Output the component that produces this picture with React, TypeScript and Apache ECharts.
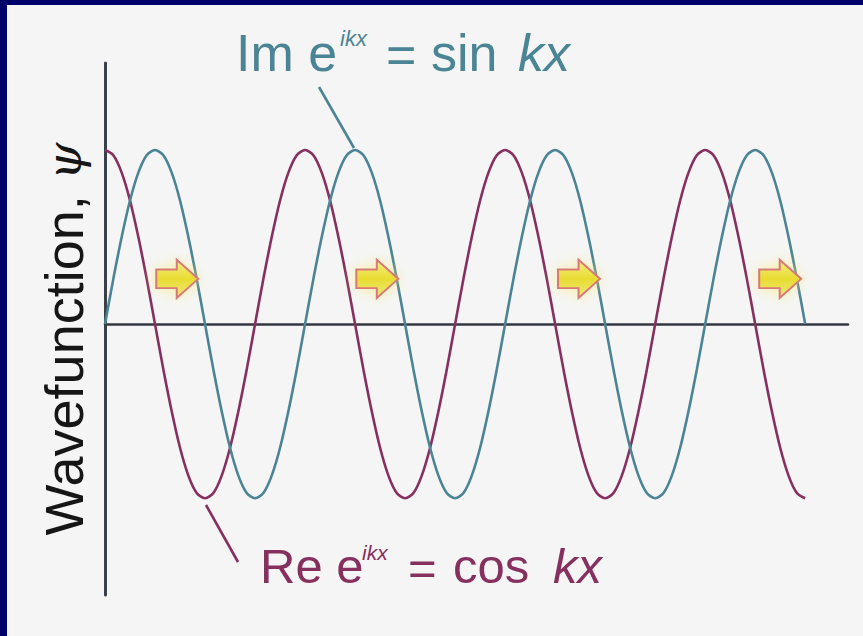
import React, { useEffect, useRef } from "react";
import * as echarts from "echarts";

// phase kx in degrees (sampled every 15°)
const phaseDeg = [
  0, 15, 30, 45, 60, 75, 90, 105, 120, 135, 150, 165,
  180, 195, 210, 225, 240, 255, 270, 285, 300, 315, 330, 345,
  360, 375, 390, 405, 420, 435, 450, 465, 480, 495, 510, 525,
  540, 555, 570, 585, 600, 615, 630, 645, 660, 675, 690, 705,
  720, 735, 750, 765, 780, 795, 810, 825, 840, 855, 870, 885,
  900, 915, 930, 945, 960, 975, 990, 1005, 1020, 1035, 1050, 1065,
  1080, 1095, 1110, 1125, 1140, 1155, 1170, 1185, 1200, 1215, 1230, 1245,
  1260,
];
// Re e^{ikx} = cos kx
const cosValues = [
  1, 0.97, 0.87, 0.71, 0.5, 0.26, 0, -0.26, -0.5, -0.71, -0.87, -0.97,
  -1, -0.97, -0.87, -0.71, -0.5, -0.26, 0, 0.26, 0.5, 0.71, 0.87, 0.97,
  1, 0.97, 0.87, 0.71, 0.5, 0.26, 0, -0.26, -0.5, -0.71, -0.87, -0.97,
  -1, -0.97, -0.87, -0.71, -0.5, -0.26, 0, 0.26, 0.5, 0.71, 0.87, 0.97,
  1, 0.97, 0.87, 0.71, 0.5, 0.26, 0, -0.26, -0.5, -0.71, -0.87, -0.97,
  -1, -0.97, -0.87, -0.71, -0.5, -0.26, 0, 0.26, 0.5, 0.71, 0.87, 0.97,
  1, 0.97, 0.87, 0.71, 0.5, 0.26, 0, -0.26, -0.5, -0.71, -0.87, -0.97,
  -1,
];
// Im e^{ikx} = sin kx
const sinValues = [
  0, 0.26, 0.5, 0.71, 0.87, 0.97, 1, 0.97, 0.87, 0.71, 0.5, 0.26,
  0, -0.26, -0.5, -0.71, -0.87, -0.97, -1, -0.97, -0.87, -0.71, -0.5, -0.26,
  0, 0.26, 0.5, 0.71, 0.87, 0.97, 1, 0.97, 0.87, 0.71, 0.5, 0.26,
  0, -0.26, -0.5, -0.71, -0.87, -0.97, -1, -0.97, -0.87, -0.71, -0.5, -0.26,
  0, 0.26, 0.5, 0.71, 0.87, 0.97, 1, 0.97, 0.87, 0.71, 0.5, 0.26,
  0, -0.26, -0.5, -0.71, -0.87, -0.97, -1, -0.97, -0.87, -0.71, -0.5, -0.26,
  0, 0.26, 0.5, 0.71, 0.87, 0.97, 1, 0.97, 0.87, 0.71, 0.5, 0.26,
  0,
];
// direction-of-travel arrows
const arrowPhase = [130, 490, 853, 1215];
const arrowLevel = [0.26, 0.26, 0.26, 0.26];

const COS_COLOR = "#85305e";
const SIN_COLOR = "#4b8494";
const FONT = "'Liberation Sans', Arial, Helvetica, sans-serif";

const ARROW_PATH =
  "path://M0,10 L20,10 L20,0 L41,19.5 L20,39 L20,29 L0,29 Z";

export default function App() {
  const ref = useRef<HTMLDivElement>(null);
  useEffect(() => {
    if (!ref.current) return;
    const chart = echarts.init(ref.current, null, { renderer: "svg" });
    const cosData = phaseDeg.map((p, i) => [p, cosValues[i]]);
    const sinData = phaseDeg.map((p, i) => [p, sinValues[i]]);
    const arrowData = arrowPhase.map((p, i) => [p, arrowLevel[i]]);

    const txt = (
      text: string,
      x: number,
      y: number,
      size: number,
      color: string,
      italic = false
    ) => ({
      type: "text",
      x,
      y,
      z: 20,
      style: {
        text,
        fill: color,
        font: `${italic ? "italic " : ""}${size}px ${FONT}`,
        align: "left",
        verticalAlign: "middle",
      },
    });

    chart.setOption({
      animation: false,
      backgroundColor: "#f5f5f5",
      grid: { left: 105, top: 63, right: 15, bottom: 41 },
      xAxis: {
        type: "value",
        min: 0,
        max: 1337,
        axisLine: { show: true, onZero: true, lineStyle: { color: "#333840", width: 2.5 } },
        axisTick: { show: false },
        axisLabel: { show: false },
        splitLine: { show: false },
      },
      yAxis: {
        type: "value",
        min: -1.556,
        max: 1.5,
        axisLine: { show: true, onZero: false, lineStyle: { color: "#3a4048", width: 3 } },
        axisTick: { show: false },
        axisLabel: { show: false },
        splitLine: { show: false },
      },
      series: [
        {
          name: "cos kx",
          type: "line",
          data: cosData,
          smooth: 0.3,
          showSymbol: false,
          lineStyle: { color: COS_COLOR, width: 2.6 },
          z: 3,
        },
        {
          name: "sin kx",
          type: "line",
          data: sinData,
          smooth: 0.3,
          showSymbol: false,
          lineStyle: { color: SIN_COLOR, width: 2.6 },
          z: 4,
        },
        {
          name: "arrows",
          type: "scatter",
          data: arrowData,
          symbol: ARROW_PATH,
          symbolSize: [42, 40],
          symbolKeepAspect: true,
          itemStyle: {
            color: {
              type: "linear",
              x: 0,
              y: 0,
              x2: 0,
              y2: 1,
              colorStops: [
                { offset: 0, color: "#f4ee8a" },
                { offset: 0.5, color: "#e8dc30" },
                { offset: 1, color: "#f0e880" },
              ],
            },
            borderColor: "#d9787a",
            borderWidth: 2,
            shadowBlur: 14,
            shadowColor: "rgba(250,235,120,0.7)",
            opacity: 1,
          },
          z: 5,
        },
      ],
      graphic: [
        { type: "rect", shape: { x: 0, y: 0, width: 7, height: 636 }, style: { fill: "#00006b" }, z: 30 },
        { type: "rect", shape: { x: 0, y: 0, width: 863, height: 5 }, style: { fill: "#00006b" }, z: 30 },
        // y-axis title
        {
          type: "text",
          x: 64,
          y: 339,
          rotation: Math.PI / 2,
          z: 20,
          style: {
            text: "{a|Wavefunction, }{p|ψ}",
            align: "center",
            verticalAlign: "middle",
            rich: {
              a: { fill: "#161616", font: `54px ${FONT}` },
              p: { fill: "#161616", font: `italic 48px 'DejaVu Serif', serif` },
            },
          },
        },
        // top label: Im e^{ikx} = sin kx
        txt("Im e", 236, 53, 52, SIN_COLOR),
        txt("ikx", 340, 38, 22, SIN_COLOR, true),
        txt("=", 386, 55, 52, SIN_COLOR),
        txt("sin", 431, 53, 52, SIN_COLOR),
        txt("kx", 518, 53, 52, SIN_COLOR, true),
        // bottom label: Re e^{ikx} = cos kx
        txt("Re e", 260, 566, 49, COS_COLOR),
        txt("ikx", 362, 552, 21, COS_COLOR, true),
        txt("=", 408, 568, 49, COS_COLOR),
        txt("cos", 453, 566, 49, COS_COLOR),
        txt("kx", 553, 566, 49, COS_COLOR, true),
        // leader lines
        {
          type: "line",
          z: 20,
          shape: { x1: 319, y1: 87, x2: 354, y2: 148 },
          style: { stroke: SIN_COLOR, lineWidth: 2.6 },
        },
        {
          type: "line",
          z: 20,
          shape: { x1: 206, y1: 505, x2: 238, y2: 562 },
          style: { stroke: COS_COLOR, lineWidth: 2.6 },
        },
      ],
    });
    return () => chart.dispose();
  }, []);
  return (
    <div
      ref={ref}
      style={{ position: "fixed", left: 0, top: 0, width: 863, height: 636 }}
    />
  );
}
